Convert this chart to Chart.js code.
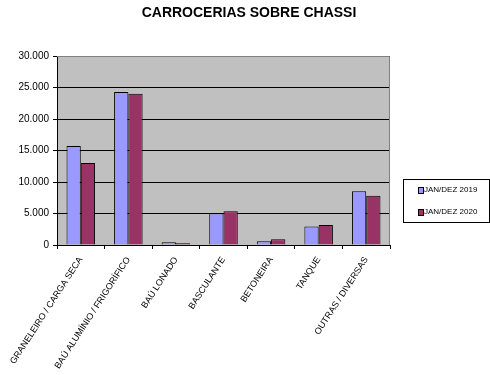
<!DOCTYPE html>
<html>
<head>
<meta charset="utf-8">
<script src="https://cdn.jsdelivr.net/npm/chart.js@4/dist/chart.umd.min.js"></script>
<style>
  html, body { margin: 0; padding: 0; background: #fff; }
  #wrap { width: 490px; height: 375px; }
</style>
</head>
<body>
<div id="wrap"><canvas id="myChart" width="490" height="375"></canvas></div>
<script>
const categories = [
  'GRANELEIRO / CARGA SECA',
  'BAÚ ALUMÍNIO / FRIGORÍFICO',
  'BAÚ LONADO',
  'BASCULANTE',
  'BETONEIRA',
  'TANQUE',
  'OUTRAS / DIVERSAS'
];
const seriesNames = ['JAN/DEZ 2019', 'JAN/DEZ 2020'];
const values2019 = [15700, 24300, 450, 5050, 600, 2950, 8550];
const values2020 = [13000, 24000, 270, 5350, 900, 3180, 7800];
const yTicks = [0, 5000, 10000, 15000, 20000, 25000, 30000];
const chartTitle = 'CARROCERIAS SOBRE CHASSI';

const COLORS = {
  a: '#9999FF',
  b: '#993366',
  plot: '#C0C0C0'
};
const FONT = '"Liberation Sans", Arial, sans-serif';

function fmt(v) {
  return String(v).replace(/\B(?=(\d{3})+(?!\d))/g, '.');
}

// grey plot background + grey top/right border
const plotBg = {
  id: 'plotBg',
  beforeDraw(chart) {
    const { ctx, chartArea: a } = chart;
    ctx.save();
    ctx.fillStyle = COLORS.plot;
    ctx.fillRect(a.left, a.top, a.right - a.left, a.bottom - a.top);
    ctx.restore();
  },
  afterDraw(chart) {
    const { ctx, chartArea: a } = chart;
    ctx.save();
    ctx.strokeStyle = '#808080';
    ctx.lineWidth = 1;
    ctx.beginPath();
    ctx.moveTo(a.left, a.top + 0.5);
    ctx.lineTo(a.right - 0.5, a.top + 0.5);
    ctx.lineTo(a.right - 0.5, a.bottom);
    ctx.stroke();
    ctx.restore();
  }
};

// title centred on the whole picture
const topTitle = {
  id: 'topTitle',
  afterDraw(chart) {
    const { ctx } = chart;
    ctx.save();
    ctx.font = 'bold 14px ' + FONT;
    ctx.fillStyle = '#000';
    ctx.textAlign = 'center';
    ctx.textBaseline = 'middle';
    ctx.fillText(chartTitle, 249, 13);
    ctx.restore();
  }
};

// boxed legend on the right
const boxLegend = {
  id: 'boxLegend',
  afterDraw(chart) {
    const { ctx } = chart;
    const x = 403, y = 179, w = 86, h = 43;
    ctx.save();
    ctx.fillStyle = '#fff';
    ctx.fillRect(x, y, w, h);
    ctx.strokeStyle = '#000';
    ctx.lineWidth = 1;
    ctx.strokeRect(x + 0.5, y + 0.5, w, h);
    ctx.font = '8px ' + FONT;
    ctx.textBaseline = 'middle';
    chart.data.datasets.forEach((ds, i) => {
      const cy = y + 11 + i * 22;
      ctx.fillStyle = ds.backgroundColor;
      ctx.fillRect(419, cy - 2, 4, 5);
      ctx.strokeStyle = '#000';
      ctx.strokeRect(418.5, cy - 2.5, 5, 6);
      ctx.fillStyle = '#000';
      ctx.fillText(ds.label, 424, cy);
    });
    ctx.restore();
  }
};

const data = {
  labels: categories,
  datasets: [
    {
      label: seriesNames[0],
      data: values2019,
      backgroundColor: COLORS.a,
      borderColor: '#000',
      borderWidth: 1
    },
    {
      label: seriesNames[1],
      data: values2020,
      backgroundColor: COLORS.b,
      borderColor: '#000',
      borderWidth: 1
    }
  ]
};

const config = {
  type: 'bar',
  data: data,
  options: {
    responsive: false,
    animation: false,
    layout: {
      padding: { top: 56, right: 100, left: 0, bottom: 0 }
    },
    datasets: {
      bar: { barPercentage: 1, categoryPercentage: 0.6 }
    },
    scales: {
      x: {
        grid: {
          offset: true,
          drawOnChartArea: false,
          drawTicks: true,
          tickLength: 4,
          tickColor: '#000'
        },
        border: { color: '#000' },
        ticks: {
          color: '#000',
          font: { family: FONT, size: 9 },
          minRotation: 57,
          maxRotation: 57,
          padding: 6,
          autoSkip: false
        },
        afterFit(scale) { scale.height = 130; }
      },
      y: {
        min: 0,
        max: 30000,
        afterBuildTicks(scale) {
          scale.ticks = yTicks.map(v => ({ value: v }));
        },
        grid: {
          color: '#000',
          tickLength: 4,
          tickColor: '#000'
        },
        border: { color: '#000' },
        ticks: {
          color: '#000',
          font: { family: FONT, size: 10 },
          padding: 4,
          callback: v => fmt(v)
        },
        afterFit(scale) { scale.width = 57; }
      }
    },
    plugins: {
      legend: { display: false },
      tooltip: { enabled: false },
      title: { display: false }
    }
  },
  plugins: [plotBg, topTitle, boxLegend]
};

const ctx = document.getElementById('myChart').getContext('2d');
const chart = new Chart(ctx, config);
</script>
</body>
</html>
